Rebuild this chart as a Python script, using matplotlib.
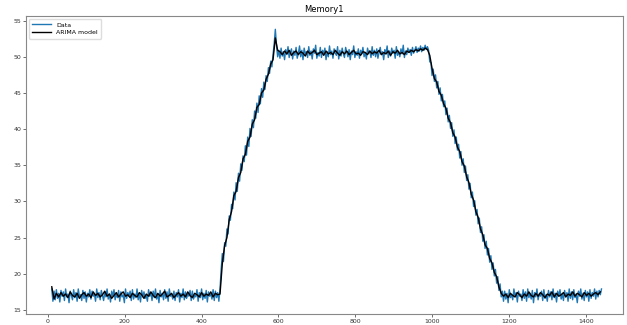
import numpy as np
import matplotlib
matplotlib.use('Agg')
import matplotlib.pyplot as plt

low_start = [17.9, 16.2, 17.6, 16.4, 17.8, 16.6, 17.3, 16.1, 17.7, 16.9,
             17.5, 16.3, 17.9, 16.8, 17.2, 16.0, 17.6, 17.0, 16.4, 17.8,
             16.7, 17.4, 16.2, 17.9, 16.9, 17.1, 16.3, 17.7, 16.6, 17.5,
             16.1, 17.3, 16.8, 17.8, 16.5, 17.6, 16.9, 17.2, 16.2, 17.9,
             16.7, 17.4, 16.4, 17.7, 17.0, 16.3, 17.5, 16.8, 17.9, 16.5,
             17.2, 16.1, 17.6, 16.9, 17.8, 16.4, 17.3, 16.7, 17.7, 16.2,
             17.5, 16.8, 17.1, 16.0, 17.9, 16.6, 17.4, 16.9, 17.6, 16.3,
             17.8, 16.5, 17.2, 16.7, 17.9, 16.4, 17.3, 16.1, 17.7, 16.8,
             17.5, 16.6, 17.0, 16.2, 17.8, 16.9, 17.4, 16.3, 17.6, 16.7,
             17.9, 16.5, 17.2, 16.0, 17.7, 16.8, 17.3, 16.4, 17.8, 16.6,
             17.5, 16.2, 17.9, 16.9, 17.1, 16.5, 17.6, 16.3, 17.4, 16.8,
             17.8, 16.1, 17.3, 16.7, 17.9, 16.4, 17.5, 16.6, 17.2, 16.9,
             17.7, 16.3, 17.6, 16.5, 17.0, 16.8, 17.8, 16.2, 17.4, 16.7,
             17.9, 16.4, 17.3, 16.6, 17.7, 16.1, 17.5, 16.9, 17.2, 16.5,
             17.8, 16.3, 17.6, 16.7, 17.4, 16.2, 17.9]
ramp_up = [20.6, 22.8, 21.7, 24.3, 23.8, 26.2, 25.5, 28.0, 27.4, 29.6,
           29.0, 31.3, 30.2, 32.6, 31.4, 33.9, 32.8, 35.2, 34.3, 36.3,
           35.5, 37.7, 36.4, 38.9, 37.6, 40.1, 39.0, 41.3, 40.2, 42.5,
           41.5, 43.6, 42.3, 44.6, 43.5, 45.6, 44.4, 46.5, 45.5, 47.4,
           46.6, 48.5, 47.7, 49.4, 48.6, 50.3, 51.8, 53.8, 51.6, 50.0]
plateau = [50.9, 49.8, 51.2, 50.1, 50.7, 49.6, 51.0, 50.3, 51.4, 49.9,
           50.6, 51.1, 49.7, 50.8, 50.2, 51.3, 49.8, 50.5, 51.5, 50.0,
           50.9, 49.6, 51.2, 50.4, 50.7, 49.9, 51.4, 50.2, 50.8, 49.7,
           51.1, 50.5, 51.6, 49.8, 50.6, 50.1, 51.3, 49.9, 50.9, 50.4,
           51.2, 49.6, 50.7, 50.0, 51.5, 50.3, 50.8, 49.8, 51.1, 50.5,
           50.2, 51.4, 49.7, 50.9, 50.1, 51.2, 50.4, 49.9, 51.3, 50.6,
           50.0, 51.0, 49.6, 50.8, 50.3, 51.5, 49.9, 50.7, 50.2, 51.1,
           49.8, 50.9, 50.4, 51.3, 50.0, 50.6, 49.7, 51.2, 50.5, 50.8,
           49.9, 51.4, 50.2, 50.9, 50.0, 51.1, 49.8, 50.6, 51.3, 50.3,
           50.7, 49.6, 51.0, 50.4, 51.5, 49.9, 50.8, 50.1, 51.2, 50.5,
           50.9, 49.8, 51.4, 50.2, 50.7, 50.0, 51.1, 50.4, 51.6, 49.9,
           50.8, 50.3, 51.2, 50.6, 51.0, 50.2, 51.3, 50.5, 50.9, 51.4,
           50.6, 51.2, 50.8, 51.5, 50.7, 51.3, 50.9, 51.6, 51.0, 51.4]
ramp_down = [50.9, 49.3, 49.2, 47.4, 48.3, 46.6, 47.5, 45.7, 46.6, 44.8,
             45.7, 43.9, 44.8, 43.1, 43.9, 42.0, 42.9, 41.0, 41.9, 40.1,
             40.9, 39.0, 39.9, 38.0, 38.9, 37.1, 37.9, 36.0, 36.9, 35.0,
             35.9, 34.0, 34.9, 32.9, 33.7, 31.7, 32.5, 30.5, 31.3, 29.3,
             30.1, 28.1, 28.9, 26.9, 27.7, 25.7, 26.5, 24.5, 25.4, 23.5,
             24.5, 22.6, 23.5, 21.6, 22.5, 20.6, 21.5, 19.7, 20.6, 18.7,
             19.6, 17.7, 18.6, 16.8, 17.6]
low_end = [16.2, 17.6, 16.5, 17.3, 16.0, 17.8, 16.7, 17.1, 16.4, 17.9,
           16.8, 17.4, 16.1, 17.6, 16.9, 17.2, 16.3, 17.8, 16.6, 17.5,
           16.2, 17.9, 16.7, 17.3, 16.5, 17.7, 16.0, 17.4, 16.8, 17.9,
           16.4, 17.2, 16.9, 17.6, 16.3, 17.8, 16.6, 17.1, 16.2, 17.7,
           16.8, 17.5, 16.4, 17.9, 16.7, 17.3, 16.1, 17.6, 16.9, 17.8,
           16.5, 17.2, 16.3, 17.7, 16.8, 17.4, 16.2, 17.9, 16.6, 17.5,
           16.4, 17.8, 16.7, 17.2, 16.0, 17.6, 16.9, 17.9, 16.5, 17.3,
           16.3, 17.7, 16.8, 17.5, 16.2, 17.8, 16.6, 17.4, 16.9, 17.9,
           16.5, 17.6, 16.8, 17.7, 17.1, 17.9]

model_low_start = [18.2, 16.5, 17.3, 16.8, 17.4, 16.9, 17.2, 16.7, 17.5, 17.0,
                   16.8, 17.3, 16.6, 17.1, 17.4, 16.9, 17.2, 16.7, 17.5, 17.0,
                   17.3, 16.8, 17.1, 17.6, 16.9, 17.2, 16.6, 17.0, 17.4, 16.8,
                   17.2, 17.5, 16.9, 17.1, 16.7, 17.3, 17.0, 16.8, 17.4, 17.1,
                   16.6, 17.2, 16.9, 17.5, 17.0, 16.7, 17.3, 16.9, 17.2, 17.6,
                   16.8, 17.0, 17.3, 16.7, 17.1, 17.4, 16.9, 17.2, 16.8, 17.5,
                   17.0, 16.7, 17.3, 17.1, 16.8, 17.4, 16.9, 17.2, 17.0, 17.5,
                   16.8, 17.3, 17.1, 17.2]
model_ramp_up = [21.4, 23.9, 25.0, 27.5, 28.6, 30.8, 31.4, 33.3, 34.0, 35.9,
                 36.5, 38.3, 38.9, 40.7, 41.3, 43.0, 43.4, 45.0, 45.4, 46.9,
                 47.6, 49.0, 49.6, 52.6, 50.9]
model_plateau = [50.7, 50.3, 50.8, 50.4, 50.9, 50.2, 50.6, 50.8, 50.3, 50.7,
                 50.5, 50.1, 50.8, 50.4, 50.6, 50.9, 50.3, 50.5, 50.7, 50.2,
                 50.8, 50.4, 50.6, 50.3, 50.9, 50.5, 50.2, 50.7, 50.4, 50.8,
                 50.3, 50.6, 50.9, 50.4, 50.5, 50.2, 50.7, 50.6, 50.3, 50.8,
                 50.4, 50.7, 50.5, 50.9, 50.3, 50.6, 50.4, 50.8, 50.2, 50.7,
                 50.5, 50.9, 50.4, 50.6, 50.3, 50.8, 50.6, 50.9, 50.7, 51.0,
                 50.8, 51.1, 50.9, 51.2, 51.0]
model_ramp_down = [50.2, 48.4, 47.0, 46.5, 45.2, 44.7, 43.5, 42.9, 41.5, 40.9,
                   39.5, 38.9, 37.5, 36.9, 35.5, 34.9, 33.4, 32.6, 31.0, 30.2,
                   28.6, 27.8, 26.2, 25.4, 24.0, 23.5, 22.1, 21.5, 20.2, 19.6,
                   18.2, 17.3]
model_low_end = [16.9, 17.2, 16.7, 17.3, 17.0, 16.8, 17.4, 17.1, 16.7, 17.2,
                 16.9, 17.5, 17.0, 16.8, 17.3, 16.9, 17.4, 17.1, 16.7, 17.2,
                 17.0, 17.5, 16.8, 17.3, 16.9, 17.1, 17.4, 16.8, 17.2, 17.0,
                 17.5, 16.9, 17.3, 17.1, 16.8, 17.4, 17.0, 17.3, 16.9, 17.2,
                 17.4, 17.1, 17.5]

data = np.concatenate([low_start, ramp_up, plateau, ramp_down, low_end])
model = np.concatenate([model_low_start, model_ramp_up, model_plateau,
                        model_ramp_down, model_low_end])
x_data = 10 + 3 * np.arange(len(data))
x_model = 10 + 6 * np.arange(len(model))

fig = plt.figure(figsize=(6.27, 3.25), dpi=100)
ax = fig.add_axes([0.0415, 0.033, 0.9515, 0.918])
ax.plot(x_data, data, color='#1f77b4', lw=1.0, label='Data')
ax.plot(x_model, model, color='black', lw=1.0, label='ARIMA model')
ax.set_xlim(-57, 1496)
ax.set_ylim(14.4, 55.65)
ax.set_xticks(range(0, 1401, 200))
ax.set_yticks(range(15, 56, 5))
ax.tick_params(labelsize=4.5, length=2, width=0.5, pad=1.2, colors='#333333')
for s in ax.spines.values():
    s.set_color('#888888')
    s.set_linewidth(0.8)
ax.set_title('Memory1', fontsize=6, pad=3)
ax.legend(loc='upper left', fontsize=4.5, handlelength=3, borderpad=0.5,
          labelspacing=0.4, framealpha=1, edgecolor='#dddddd')
plt.savefig('out.png', dpi=100)
